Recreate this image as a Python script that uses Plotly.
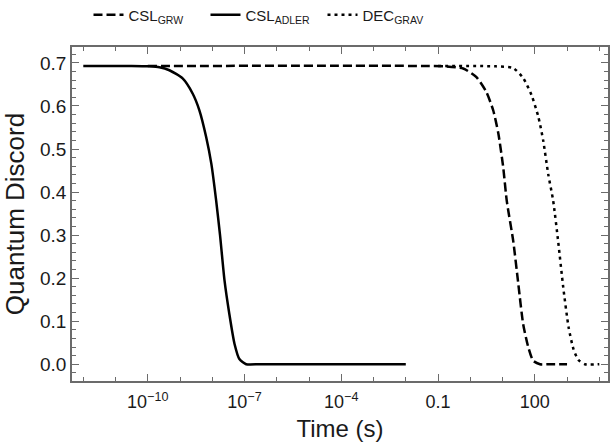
import numpy as np
import plotly.graph_objects as go

# ---- data (time exponents log10(t/s), discord values) ----
adler_log_t = [-12.0, -10.5, -9.95, -9.64, -9.33, -8.92, -8.61, -8.40, -8.19, -8.03,
               -7.88, -7.76, -7.62, -7.47, -7.31, -7.16, -6.95, -6.5, -2.0]
adler_d = [0.693, 0.693, 0.692, 0.690, 0.683, 0.664, 0.629, 0.590, 0.528, 0.466,
           0.380, 0.300, 0.194, 0.116, 0.047, 0.012, 0.0, 0.0, 0.0]

grw_log_t = [-10.0, -1.5, -0.74, -0.22, 0.19, 0.50, 0.71, 0.87, 1.02, 1.13,
             1.33, 1.49, 1.64, 1.80, 1.95, 2.16, 2.5, 3.0]
grw_d = [0.693, 0.693, 0.692, 0.687, 0.667, 0.632, 0.590, 0.536, 0.458, 0.380,
         0.287, 0.186, 0.093, 0.039, 0.008, 0.0, 0.0, 0.0]

grav_log_t = [-1.0, 0.8, 1.33, 1.64, 1.90, 2.11, 2.26, 2.42, 2.57, 2.73,
              2.88, 3.05, 3.20, 3.35, 3.55, 4.0]
grav_d = [0.693, 0.692, 0.688, 0.665, 0.625, 0.575, 0.520, 0.440, 0.380, 0.282,
          0.180, 0.085, 0.035, 0.010, 0.0, 0.0]

x_tick_vals = [1e-10, 1e-7, 1e-4, 0.1, 100]
x_tick_text = ["10<sup>\u221210</sup>", "10<sup>\u22127</sup>", "10<sup>\u22124</sup>", "0.1", "100"]
y_tick_vals = [0.0, 0.1, 0.2, 0.3, 0.4, 0.5, 0.6, 0.7]
y_tick_text = ["0.0", "0.1", "0.2", "0.3", "0.4", "0.5", "0.6", "0.7"]

def to_t(logs):
    return np.power(10.0, np.array(logs))

fig = go.Figure()
fig.add_trace(go.Scatter(x=to_t(grav_log_t), y=grav_d, mode="lines",
                         name="DEC<sub>GRAV</sub>",
                         line=dict(color="black", width=2.5, dash="3px,4px", shape="spline", smoothing=0.6)))
fig.add_trace(go.Scatter(x=to_t(adler_log_t), y=adler_d, mode="lines",
                         name="CSL<sub>ADLER</sub>",
                         line=dict(color="black", width=2.5, shape="spline", smoothing=0.6)))
fig.add_trace(go.Scatter(x=to_t(grw_log_t), y=grw_d, mode="lines",
                         name="CSL<sub>GRW</sub>",
                         line=dict(color="black", width=2.5, dash="9px,4px", shape="spline", smoothing=0.6)))

axis_color = "#6b6b6b"
fig.update_layout(
    width=610, height=443,
    margin=dict(l=72, r=2, t=47, b=62),
    paper_bgcolor="white", plot_bgcolor="white",
    font=dict(family="Liberation Sans, Arial, sans-serif", color="#1a1a1a", size=15),
    showlegend=True,
    legend=dict(orientation="h", x=264 / 610, xref="container", xanchor="center",
                y=1 - 15 / 443, yref="container", yanchor="middle",
                traceorder="reversed", font=dict(size=15),
                entrywidthmode="pixels", entrywidth=72,
                bgcolor="rgba(0,0,0,0)"),
    xaxis=dict(type="log", range=[-12.35, 4.27], automargin=False,
               showgrid=False, zeroline=False,
               showline=True, linecolor=axis_color, linewidth=1.5, mirror="ticks",
               ticks="inside", ticklen=7, tickcolor=axis_color, tickwidth=1,
               tickmode="array", tickvals=x_tick_vals, ticktext=x_tick_text,
               tickfont=dict(size=18, color="#1a1a1a"), ticklabelstandoff=4,
               minor=dict(tickmode="array",
                          tickvals=[10.0 ** k for k in range(-12, 5)],
                          ticks="inside", ticklen=4, tickcolor=axis_color, tickwidth=1, showgrid=False),
               title=dict(text="Time (s)", font=dict(size=24), standoff=9)),
    yaxis=dict(range=[-0.039, 0.737], automargin=False,
               showgrid=False, zeroline=False,
               showline=True, linecolor=axis_color, linewidth=1.5, mirror="ticks",
               ticks="inside", ticklen=7, tickcolor=axis_color, tickwidth=1,
               tickmode="array", tickvals=y_tick_vals, ticktext=y_tick_text,
               tickfont=dict(size=19, color="#1a1a1a"),
               minor=dict(tickmode="array",
                          tickvals=[round(-0.02 + 0.02 * k, 2) for k in range(39)],
                          ticks="inside", ticklen=4, tickcolor=axis_color, tickwidth=1, showgrid=False),
               title=dict(text="Quantum Discord", font=dict(size=26), standoff=8)),
)

fig.write_html("out.html", config={"displayModeBar": False},
               post_script="document.body.style.margin='0px';")
